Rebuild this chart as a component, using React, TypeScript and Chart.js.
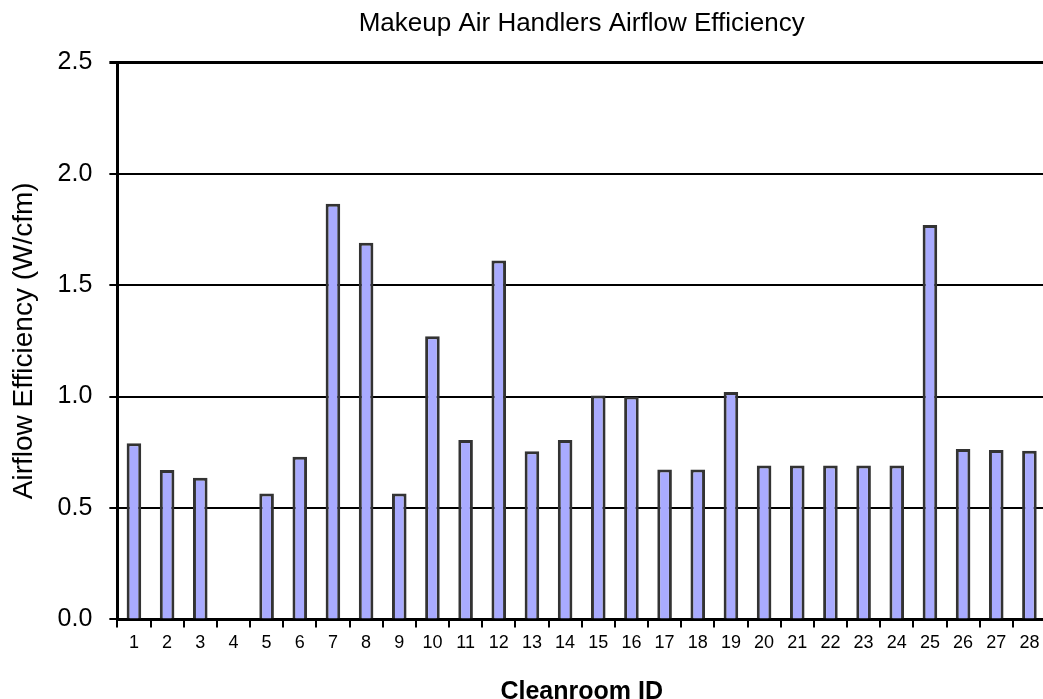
import React, { useEffect, useRef } from "react";
import { Chart, registerables } from "chart.js";

Chart.register(...registerables);

const categories: string[] = [
  "1", "2", "3", "4", "5", "6", "7", "8", "9", "10", "11", "12", "13", "14",
  "15", "16", "17", "18", "19", "20", "21", "22", "23", "24", "25", "26", "27", "28",
];

const efficiency: (number | null)[] = [
  0.79, 0.67, 0.635, null, 0.565, 0.73, 1.865, 1.69, 0.565, 1.27, 0.805, 1.61, 0.755, 0.805,
  1.005, 1.0, 0.672, 0.672, 1.02, 0.69, 0.69, 0.69, 0.69, 0.69, 1.77, 0.765, 0.76, 0.757,
];

const yTicks: number[] = [0, 0.5, 1.0, 1.5, 2.0, 2.5];

const FONT = "'Liberation Sans', Arial, sans-serif";

export default function App() {
  const ref = useRef<HTMLCanvasElement | null>(null);

  useEffect(() => {
    const el = ref.current;
    if (!el) return;
    const chart = new Chart(el, {
      type: "bar",
      data: {
        labels: categories,
        datasets: [
          {
            label: "Airflow Efficiency",
            data: efficiency,
            backgroundColor: "#a9abff",
            borderColor: "#333333",
            borderWidth: 3,
            borderSkipped: "bottom",
            categoryPercentage: 1.0,
            barPercentage: 0.44,
          },
        ],
      },
      options: {
        animation: false,
        responsive: false,
        maintainAspectRatio: false,
        layout: { padding: { left: 2, right: 2, top: 2, bottom: 5 } },
        plugins: {
          legend: { display: false },
          tooltip: { enabled: false },
          title: {
            display: true,
            fullSize: false,
            text: "Makeup Air Handlers Airflow Efficiency",
            color: "#000",
            font: { family: FONT, size: 26, weight: "normal" },
            padding: { top: 6, bottom: 23 },
          },
        },
        scales: {
          x: {
            type: "category",
            grid: {
              display: true,
              drawOnChartArea: false,
              drawTicks: true,
              tickLength: 8,
              color: "#000",
              lineWidth: 2,
              offset: true,
            },
            border: { display: true, color: "#000", width: 3 },
            ticks: {
              color: "#000",
              font: { family: FONT, size: 18 },
              padding: 5,
              maxRotation: 0,
              autoSkip: false,
            },
            title: {
              display: true,
              text: "Cleanroom ID",
              color: "#000",
              font: { family: FONT, size: 25, weight: "bold" },
              padding: { top: 18, bottom: 0 },
            },
          },
          y: {
            min: 0,
            max: 2.5,
            afterBuildTicks: (axis: any) => {
              axis.ticks = yTicks.map((v) => ({ value: v }));
            },
            grid: {
              color: "#000",
              lineWidth: (ctx: any) => (ctx.tick && ctx.tick.value === 2.5 ? 3 : 2),
              drawTicks: true,
              tickLength: 8,
            },
            border: { display: true, color: "#000", width: 3 },
            ticks: {
              color: "#000",
              font: { family: FONT, size: 25 },
              padding: 17,
              callback: (v: any) => Number(v).toFixed(1),
            },
            title: {
              display: true,
              text: "Airflow Efficiency (W/cfm)",
              color: "#000",
              font: { family: FONT, size: 28, weight: "normal" },
              padding: { top: 5, bottom: 0 },
            },
          },
        },
      },
    });
    return () => chart.destroy();
  }, []);

  return (
    <div style={{ position: "absolute", left: 0, top: 0, width: 1043, height: 699, overflow: "hidden", background: "#fff" }}>
      <canvas ref={ref} width={1048} height={712} style={{ display: "block" }} />
    </div>
  );
}
